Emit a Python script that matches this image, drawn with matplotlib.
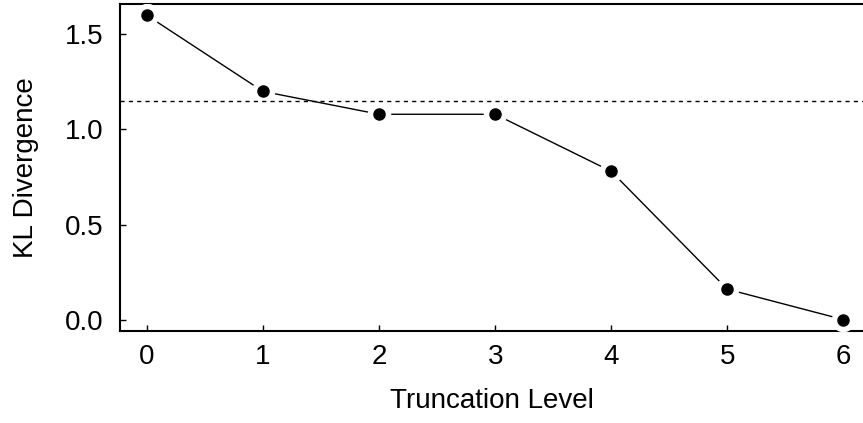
import matplotlib
matplotlib.use("Agg")
import matplotlib.pyplot as plt

# truncation levels and KL divergence values
levels = [0, 1, 2, 3, 4, 5, 6]
kl_values = [1.60, 1.20, 1.08, 1.08, 0.78, 0.16, 0.00]
threshold = 1.15

x_ticks = [0, 1, 2, 3, 4, 5, 6]
y_ticks = [0.0, 0.5, 1.0, 1.5]
y_tick_labels = ["0.0", "0.5", "1.0", "1.5"]


def main():
    plt.rcParams['font.family'] = ['Liberation Sans', 'DejaVu Sans']
    fig = plt.figure(figsize=(8.63, 4.23), dpi=100)
    ax = fig.add_axes([120 / 863, 92 / 423, 743 / 863, 327 / 423])

    # R-style type="b": lines with gaps around the points
    ax.plot(levels, kl_values, color='black', linewidth=1, zorder=2)
    ax.plot(levels, kl_values, 'o', markersize=8, color='white',
            markeredgecolor='white', markeredgewidth=9, zorder=3)
    ax.axhline(threshold, color='black', linestyle=(0, (3, 3)), linewidth=1, zorder=4)
    ax.plot(levels, kl_values, 'o', markersize=8, color='black', zorder=5)

    ax.set_xlim(-0.233, 6.17)
    ax.set_ylim(-0.06, 1.66)
    ax.set_xticks(x_ticks)
    ax.set_yticks(y_ticks)
    ax.set_yticklabels(y_tick_labels)
    ax.tick_params(direction='in', length=4, width=1, labelsize=20)
    ax.tick_params(axis='x', pad=9)
    ax.tick_params(axis='y', pad=12)
    ax.spines['right'].set_visible(False)
    for side in ['left', 'bottom', 'top']:
        ax.spines[side].set_linewidth(1.5)

    ax.set_xlabel("Truncation Level", fontsize=20, labelpad=13)
    ax.set_ylabel("KL Divergence", fontsize=20, labelpad=18.5)

    fig.savefig("out.png", dpi=100)


if __name__ == "__main__":
    main()
